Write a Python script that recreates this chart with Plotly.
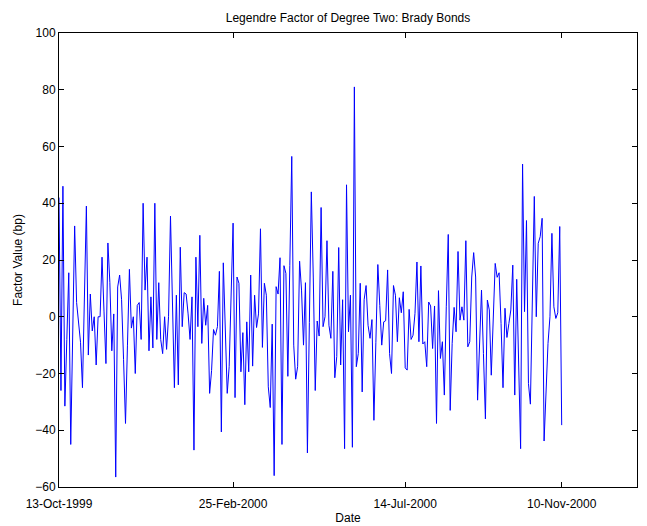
import plotly.graph_objects as go

# Factor values (bp), one per trading day
values = [
    42, -26, 46, -31.5, -8, 15.5, -45, -6, 32, 5,
    -2, -9, -25, 7, 39, -13.5, 8, -5, 0, -17,
    0, 0, 21, 2, -16.5, 26, 12, -12, 1, -56.5,
    10.5, 14.7, 6, -15, -37.6, -10, 16.7, -4, 0, -20,
    4, 5, -8, 40, 9.4, 21, -12, 7, -11, 40,
    -8, 12, -8, -13, 0, -11.5, 0, 35.5, 5, -25,
    7.6, -24, 24.5, -3.5, 8.5, 8, 1, -8, 7, -47,
    21, -3.5, 28.7, -9.4, 6.5,
    -3, 4, -27, -19, -4.5, -6.5, -3.5, 16, -40.6, 19,
    -9.4, -27, -17.6, 8, 33, -28.5, 14, 11.8, -19.4, -5.6,
    -31, -1.8, -19.4, 14.7, -17.4, 7.6, -3.8, 1, 31, -10.8,
    11.8, 7.6, -24.7, -32, -2.6, -56, 10.6, 8, 20.8, -45,
    18, 15.3, -21, 18, 56.5, -10, -22, -17.6, 19.6, 9.4,
    -10, 12, -48, -2, 44, 14, -26, -1.5, -6.8, 38.5,
    -3.5, 0, 26.8, -3, -7.6, 16, -21.5, -14, 24.4, -17, 6,
    -46.5, 46.5, -5.3, 7.6, -46, 81, -17.6, -13, 11.8, -26.5,
    6, 11, -3, -7.6, -1, -36.5, -9, 18.4, 4, -10,
    -1.8, -1.4, 16.5, -13, -20, 11, 7.6, -8.8, 6.7, 1.4,
    8.8, -18, -18.8, 2.6, -8, -6.5, 1.2, 19.3, -8.8, 17.9,
    -9.6, -8.8, -17.6, 5.2, 3.8, -11.2, 3.8, -37.6, 9.2, -14.7,
    -8.8, -27.6, 3.5, 29, -33, -9.4, 3.3, -5.3, 23, -1.2,
    3.5, -1.2, 26.8, -10.6, -8.8, 14, 22.6, 14, -29.4,
    -10, 9.4, -13, -36, 5.9, 2.4, -20.6, 0, 18.8, 13.9,
    15.5, -2.4, -25, 3, -7.3, -2.4, 2.4, 18.2, -27.6, 13.2,
    -17, -46.5, 53.8, 1.8, 33.9, -23.5, -30.8, 6, 42.4, 0,
    25.9, 28.2, 34.7, -43.8, -26, -9.4, 0, 29.4, 3.5, -0.6,
    1.4, 31.8, -38.2,
]
day_index = list(range(1, len(values) + 1))

tick_positions = [1, 90, 178, 258]
tick_labels = ["13-Oct-1999", "25-Feb-2000", "14-Jul-2000", "10-Nov-2000"]
y_ticks = [-60, -40, -20, 0, 20, 40, 60, 80, 100]

font = dict(family="Liberation Sans, Arial, sans-serif", size=12, color="black")

fig = go.Figure()
fig.add_trace(go.Scatter(
    x=day_index, y=values, mode="lines",
    line=dict(color="rgb(0,0,255)", width=1),
    showlegend=False,
))

axis_common = dict(
    showline=True, linecolor="black", linewidth=1, mirror="ticks",
    ticks="inside", ticklen=5, tickcolor="black", tickwidth=1,
    showgrid=False, zeroline=False, tickfont=font, automargin=False,
)

W, H = 639, 518  # page body has an 8px margin
fig.update_layout(
    width=W, height=H,
    margin=dict(l=51, r=10, t=25, b=39),
    paper_bgcolor="white", plot_bgcolor="white",
    font=font,
    title=dict(text="Legendre Factor of Degree Two: Brady Bonds",
               x=340 / W, xanchor="center",
               y=1 - 10 / H, yanchor="middle", font=font),
    xaxis=dict(range=[1, 296.5], tickvals=tick_positions, ticktext=tick_labels,
               ticklabelstandoff=6,
               title=dict(text="Date", font=font, standoff=3), **axis_common),
    yaxis=dict(range=[-60, 100], tickvals=y_ticks,
               title=dict(text="Factor Value (bp)", font=font, standoff=10), **axis_common),
)

fig.write_html("out.html")
